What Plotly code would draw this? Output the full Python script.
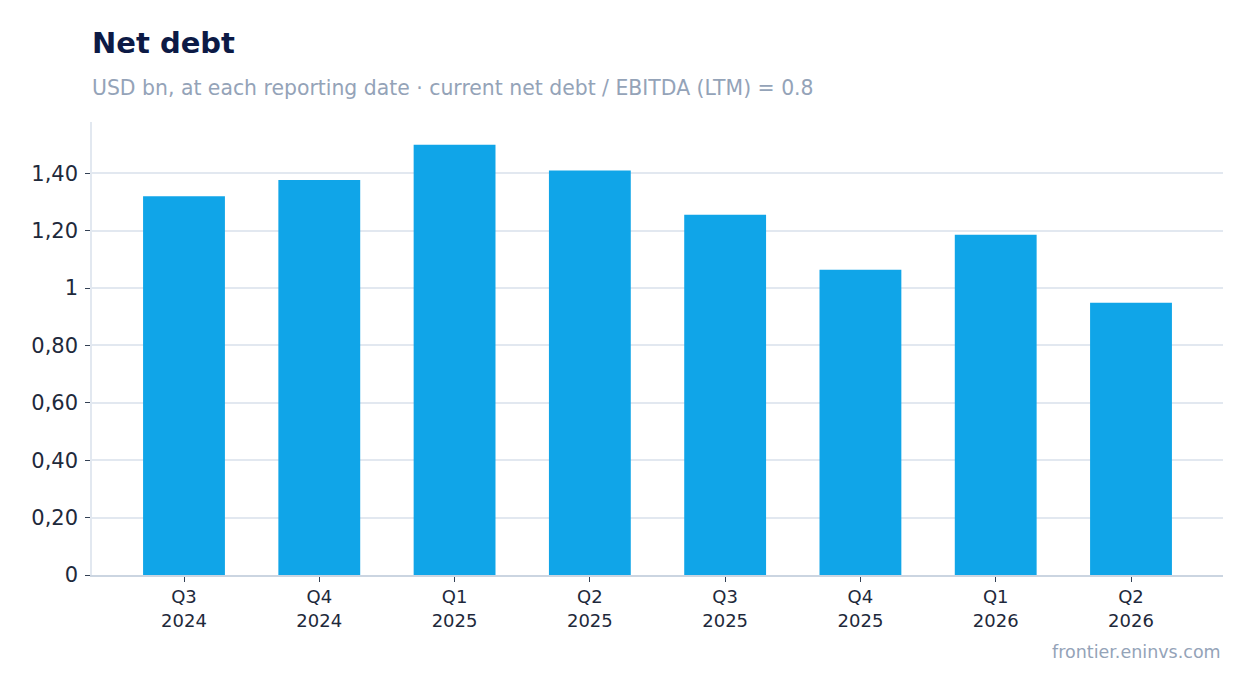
import plotly.graph_objects as go

# Net debt by quarter, USD bn
quarters = ["Q3<br>2024", "Q4<br>2024", "Q1<br>2025", "Q2<br>2025",
            "Q3<br>2025", "Q4<br>2025", "Q1<br>2026", "Q2<br>2026"]
net_debt = [1.32, 1.377, 1.50, 1.41, 1.256, 1.064, 1.186, 0.949]

tick_vals = [0, 0.2, 0.4, 0.6, 0.8, 1.0, 1.2, 1.4]
tick_text = ["0", "0,20", "0,40", "0,60", "0,80", "1", "1,20", "1,40"]

fig = go.Figure()
fig.add_trace(go.Bar(x=quarters, y=net_debt, marker_color="#10a5e8",
                     marker_line_width=0, hoverinfo="y"))

fig.update_layout(
    width=1238, height=677,
    margin=dict(l=84, r=23, t=114, b=110),
    plot_bgcolor="white", paper_bgcolor="white",
    font=dict(family="DejaVu Sans", color="#1e293b"),
    bargap=0.395,
    showlegend=False,
    annotations=[
        dict(text="<b>Net debt</b>", xref="paper", yref="paper", x=-0.002, y=1.174,
             xanchor="left", yanchor="middle", showarrow=False,
             font=dict(size=29, color="#0c1a45")),
        dict(text="USD bn, at each reporting date · current net debt / EBITDA (LTM) = 0.8",
             xref="paper", yref="paper", x=-0.002, y=1.075,
             xanchor="left", yanchor="middle", showarrow=False,
             font=dict(size=20.4, color="#94a3b8")),
        dict(text="frontier.eninvs.com", xref="paper", yref="paper", x=1, y=-0.169,
             xanchor="right", yanchor="middle", showarrow=False,
             font=dict(size=17.5, color="#94a3b8")),
    ],
)

fig.update_xaxes(showline=True, linecolor="#cbd5e1", linewidth=1.5,
                 range=[-0.68, 7.68],
                 ticks="outside", ticklen=5, tickcolor="#334155",
                 tickfont=dict(size=18, color="#1e293b"))
fig.update_yaxes(showline=True, linecolor="#e2e8f0", linewidth=1.5,
                 showgrid=True, gridcolor="#e2e8f0", gridwidth=1.5,
                 zeroline=False, ticks="outside", ticklen=5, tickcolor="#334155",
                 ticklabelstandoff=3,
                 tickvals=tick_vals, ticktext=tick_text,
                 tickfont=dict(size=21, color="#1e293b"))

fig.write_html("out.html")
